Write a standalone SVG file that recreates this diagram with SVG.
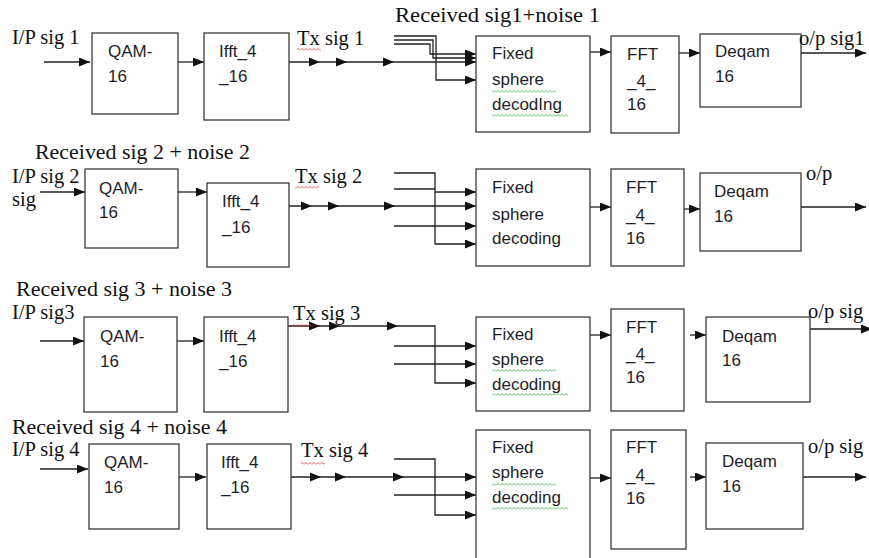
<svg xmlns="http://www.w3.org/2000/svg" xmlns:xlink="http://www.w3.org/1999/xlink" width="869" height="558" viewBox="0 0 869 558">
<style>
.box{fill:#fff;stroke:#3a3a3a;stroke-width:1.3}
.t{font-family:"Liberation Sans",Arial,sans-serif;font-size:17px;fill:#1e1e28}
.s{font-family:"Liberation Serif","Times New Roman",serif;font-size:20.5px;fill:#111}
.c{fill:none;stroke:#222;stroke-width:1.3}
.a{marker-end:url(#arr)}
</style>
<defs>
<marker id="arr" markerWidth="11" markerHeight="9" refX="11" refY="4.5" orient="auto" markerUnits="userSpaceOnUse"><path d="M0,0 L11,4.5 L0,9 Z" fill="#111"/></marker>
<path id="ah" d="M-11,-4.5 L0,0 L-11,4.5 Z" fill="#111"/>
<pattern id="wr" width="4" height="3" patternUnits="userSpaceOnUse"><path d="M0,2.5 L2,0.5 L4,2.5" fill="none" stroke="#e03030" stroke-width="0.8"/></pattern>
<pattern id="wg" width="4" height="3" patternUnits="userSpaceOnUse"><path d="M0,2.5 L2,0.5 L4,2.5" fill="none" stroke="#3aa83a" stroke-width="0.8"/></pattern>
</defs>
<rect width="869" height="558" fill="#fff"/>

<g id="connectors">
<!-- row 1 -->
<path class="c a" d="M44,62 H90"/>
<path class="c a" d="M178,62 H204"/>
<path class="c a" d="M289,62 H476"/>
<path class="c a" d="M394,36 H436 V80 H476"/>
<path class="c a" d="M394,40 H433 V58 H476"/>
<path class="c a" d="M394,44 H430 V54 H476"/>
<path class="c a" d="M590,52 H611"/>
<path class="c a" d="M679,53 H700"/>
<path class="c a" d="M801,53 H866"/>
<!-- row 2 -->
<path class="c a" d="M40,192 H85"/>
<path class="c a" d="M178,192 H207"/>
<path class="c a" d="M289,206 H476"/>
<path class="c a" d="M394,173 H435 V244 H476"/>
<path class="c" d="M394,189 H435"/>
<path class="c a" d="M435,192 H476"/>
<path class="c a" d="M394,226 H476"/>
<path class="c a" d="M590,207 H611"/>
<path class="c a" d="M684,209 H700"/>
<path class="c a" d="M801,207 H866"/>
<!-- row 3 -->
<path class="c a" d="M40,341 H84"/>
<path class="c a" d="M177,341 H204"/>
<path class="c a" d="M288,326 H435 V383 H476"/>
<path class="c a" d="M394,346 H476"/>
<path class="c a" d="M394,364 H476"/>
<path class="c a" d="M590,335 H611"/>
<path class="c a" d="M690,335 H706"/>
<path class="c a" d="M810,329 H872"/>
<!-- row 4 -->
<path class="c a" d="M40,469 H88"/>
<path class="c a" d="M179,477 H206"/>
<path class="c a" d="M291,477 H476"/>
<path class="c a" d="M394,459 H435 V515 H476"/>
<path class="c a" d="M394,495 H476"/>
<path class="c a" d="M590,478 H611"/>
<path class="c a" d="M690,477 H706"/>
<path class="c a" d="M803,477 H866"/>
<!-- mid-line arrowheads -->
<use xlink:href="#ah" x="320" y="62"/><use xlink:href="#ah" x="347" y="62"/><use xlink:href="#ah" x="394" y="62"/>
<use xlink:href="#ah" x="312" y="206"/><use xlink:href="#ah" x="339" y="206"/><use xlink:href="#ah" x="395" y="206"/>
<use xlink:href="#ah" x="320" y="326"/><use xlink:href="#ah" x="340" y="326"/><use xlink:href="#ah" x="398" y="326"/>
<use xlink:href="#ah" x="321" y="477"/><use xlink:href="#ah" x="346" y="477"/><use xlink:href="#ah" x="404" y="477"/>
</g>

<!-- Row 1 nodes -->
<g id="qam1"><rect class="box" x="92" y="33" width="86" height="81"/><text class="t" x="108" y="57">QAM-</text><text class="t" x="108" y="82">16</text></g>
<g id="ifft1"><rect class="box" x="204" y="33" width="85" height="87"/><text class="t" x="219" y="57">Ifft_4</text><text class="t" x="219" y="82">_16</text></g>
<g id="fsd1"><rect class="box" x="476" y="36" width="114" height="96"/><text class="t" x="492" y="59">Fixed</text><text class="t" x="492" y="85">sphere</text><text class="t" x="492" y="110">decodIng</text></g>
<g id="fft1"><rect class="box" x="611" y="36" width="68" height="97"/><text class="t" x="627" y="60">FFT</text><text class="t" x="627" y="87">_4_</text><text class="t" x="627" y="110">16</text></g>
<g id="deq1"><rect class="box" x="700" y="34" width="101" height="73"/><text class="t" x="715" y="57">Deqam</text><text class="t" x="715" y="82">16</text></g>

<!-- Row 2 nodes -->
<g id="qam2"><rect class="box" x="85" y="169" width="93" height="79"/><text class="t" x="99" y="194">QAM-</text><text class="t" x="99" y="218">16</text></g>
<g id="ifft2"><rect class="box" x="207" y="183" width="82" height="84"/><text class="t" x="222" y="207">Ifft_4</text><text class="t" x="222" y="233">_16</text></g>
<g id="fsd2"><rect class="box" x="476" y="169" width="114" height="97"/><text class="t" x="492" y="193">Fixed</text><text class="t" x="492" y="220">sphere</text><text class="t" x="492" y="244">decoding</text></g>
<g id="fft2"><rect class="box" x="611" y="169" width="73" height="97"/><text class="t" x="626" y="193">FFT</text><text class="t" x="626" y="221">_4_</text><text class="t" x="626" y="244">16</text></g>
<g id="deq2"><rect class="box" x="700" y="173" width="101" height="78"/><text class="t" x="714" y="197">Deqam</text><text class="t" x="714" y="222">16</text></g>

<!-- Row 3 nodes -->
<g id="qam3"><rect class="box" x="84" y="317" width="93" height="95"/><text class="t" x="100" y="342">QAM-</text><text class="t" x="100" y="367">16</text></g>
<g id="ifft3"><rect class="box" x="204" y="317" width="84" height="95"/><text class="t" x="219" y="342">Ifft_4</text><text class="t" x="219" y="367">_16</text></g>
<g id="fsd3"><rect class="box" x="476" y="317" width="114" height="94"/><text class="t" x="492" y="340">Fixed</text><text class="t" x="492" y="365">sphere</text><text class="t" x="492" y="390">decoding</text></g>
<g id="fft3"><rect class="box" x="611" y="309" width="73" height="102"/><text class="t" x="626" y="333">FFT</text><text class="t" x="626" y="360">_4_</text><text class="t" x="626" y="383">16</text></g>
<g id="deq3"><rect class="box" x="706" y="317" width="104" height="85"/><text class="t" x="722" y="342">Deqam</text><text class="t" x="722" y="366">16</text></g>

<!-- Row 4 nodes -->
<g id="qam4"><rect class="box" x="89" y="444" width="90" height="85"/><text class="t" x="104" y="468">QAM-</text><text class="t" x="104" y="493">16</text></g>
<g id="ifft4"><rect class="box" x="207" y="444" width="84" height="85"/><text class="t" x="221" y="468">Ifft_4</text><text class="t" x="221" y="493">_16</text></g>
<g id="fsd4"><rect class="box" x="476" y="430" width="114" height="135"/><text class="t" x="492" y="453">Fixed</text><text class="t" x="492" y="478">sphere</text><text class="t" x="492" y="503">decoding</text></g>
<g id="fft4"><rect class="box" x="611" y="430" width="75" height="119"/><text class="t" x="626" y="453">FFT</text><text class="t" x="626" y="481">_4_</text><text class="t" x="626" y="504">16</text></g>
<g id="deq4"><rect class="box" x="706" y="443" width="97" height="86"/><text class="t" x="722" y="467">Deqam</text><text class="t" x="722" y="492">16</text></g>

<!-- labels -->
<g id="labels">
<text class="s" x="395" y="22" textLength="205" lengthAdjust="spacingAndGlyphs">Received sig1+noise 1</text>
<text class="s" x="12" y="44">I/P sig 1</text>
<text class="s" x="297" y="45">Tx sig 1</text>
<text class="s" x="799" y="45">o/p sig1</text>
<text class="s" x="35" y="159" textLength="215" lengthAdjust="spacingAndGlyphs">Received sig 2 + noise 2</text>
<text class="s" x="12" y="183">I/P sig 2</text>
<text class="s" x="12" y="206">sig</text>
<text class="s" x="295" y="183">Tx sig 2</text>
<text class="s" x="806" y="180">o/p</text>
<text class="s" x="16" y="296" textLength="216" lengthAdjust="spacingAndGlyphs">Received sig 3 + noise 3</text>
<text class="s" x="12" y="319">I/P sig3</text>
<text class="s" x="293" y="320">Tx sig 3</text>
<text class="s" x="808" y="318">o/p sig</text>
<text class="s" x="12" y="434" textLength="215" lengthAdjust="spacingAndGlyphs">Received sig 4 + noise 4</text>
<text class="s" x="12" y="456">I/P sig 4</text>
<text class="s" x="301" y="457">Tx sig 4</text>
<text class="s" x="808" y="453">o/p sig</text>
</g>

<!-- spell-check squiggles -->
<g id="squiggles">
<rect x="297" y="48" width="24" height="3" fill="url(#wr)"/>
<rect x="295" y="186" width="24" height="3" fill="url(#wr)"/>
<rect x="293" y="324" width="20" height="3" fill="url(#wr)"/>
<rect x="301" y="462" width="24" height="3" fill="url(#wr)"/>
<rect x="492" y="90" width="64" height="3" fill="url(#wg)"/>
<rect x="492" y="114" width="76" height="3" fill="url(#wg)"/>
<rect x="492" y="369" width="64" height="3" fill="url(#wg)"/>
<rect x="492" y="393" width="76" height="3" fill="url(#wg)"/>
<rect x="492" y="483" width="64" height="3" fill="url(#wg)"/>
<rect x="492" y="507" width="76" height="3" fill="url(#wg)"/>
</g>
</svg>
